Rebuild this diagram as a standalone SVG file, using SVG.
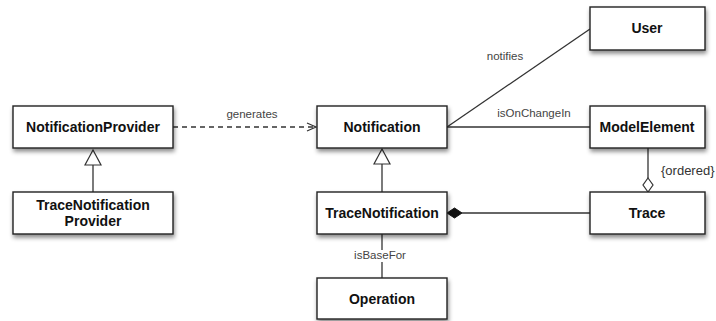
<svg xmlns="http://www.w3.org/2000/svg" width="716" height="321" viewBox="0 0 716 321">
<defs>
<filter id="sh" x="-10%" y="-10%" width="130%" height="150%">
<feDropShadow dx="1" dy="3" stdDeviation="2" flood-color="#000" flood-opacity="0.45"/>
</filter>
<marker id="open" markerWidth="12" markerHeight="10" refX="10" refY="5" orient="auto" markerUnits="userSpaceOnUse">
<path d="M1,1 L10,5 L1,9" fill="none" stroke="#333" stroke-width="1.2"/>
</marker>
</defs>
<style>
.box{fill:#fff;stroke:#222;stroke-width:1.4;filter:url(#sh)}
.t{font-family:"Liberation Sans",Arial,sans-serif;font-size:14px;font-weight:bold;fill:#111;text-anchor:middle}
.l{font-family:"Liberation Sans",Arial,sans-serif;font-size:11.5px;fill:#444}
.c{stroke:#333;stroke-width:1.3;fill:none}
</style>
<rect width="716" height="321" fill="#fff"/>
<g id="connectors">
<line class="c" x1="173" y1="127" x2="316" y2="127" stroke-dasharray="5,4" marker-end="url(#open)"/>
<text class="l" x="252" y="118" text-anchor="middle">generates</text>
<line class="c" x1="93" y1="165" x2="93" y2="192"/>
<path d="M93,150 L101,165 L85,165 Z" fill="#fff" stroke="#333" stroke-width="1.2"/>
<line class="c" x1="447" y1="127" x2="590" y2="29"/>
<text class="l" x="505" y="60" text-anchor="middle">notifies</text>
<line class="c" x1="447" y1="127" x2="590" y2="127"/>
<text class="l" x="534" y="117" text-anchor="middle">isOnChangeIn</text>
<line class="c" x1="382" y1="164" x2="382" y2="192"/>
<path d="M382,149 L390,164 L374,164 Z" fill="#fff" stroke="#333" stroke-width="1.2"/>
<line class="c" x1="648" y1="148" x2="648" y2="178"/>
<path d="M648,178 L653,185 L648,192 L643,185 Z" fill="#fff" stroke="#333" stroke-width="1.2"/>
<text class="l" x="661" y="175" style="font-size:13px;fill:#333">{ordered}</text>
<line class="c" x1="462" y1="213" x2="590" y2="213"/>
<path d="M447,213 L454.5,208 L462,213 L454.5,218 Z" fill="#111" stroke="#111" stroke-width="1"/>
<line class="c" x1="382" y1="234" x2="382" y2="250"/>
<line class="c" x1="382" y1="262" x2="382" y2="278"/>
<text class="l" x="380" y="259" text-anchor="middle">isBaseFor</text>
</g>
<g id="NotificationProvider">
<rect class="box" x="13" y="106" width="160" height="42"/>
<text class="t" x="93" y="132">NotificationProvider</text>
</g>
<g id="TraceNotificationProvider">
<rect class="box" x="13" y="192" width="160" height="42"/>
<text class="t" x="93" y="210">TraceNotification</text>
<text class="t" x="93" y="226">Provider</text>
</g>
<g id="Notification">
<rect class="box" x="317" y="106" width="130" height="42"/>
<text class="t" x="382" y="132">Notification</text>
</g>
<g id="TraceNotification">
<rect class="box" x="317" y="192" width="130" height="42"/>
<text class="t" x="382" y="218">TraceNotification</text>
</g>
<g id="Operation">
<rect class="box" x="317" y="278" width="130" height="41"/>
<text class="t" x="382" y="304">Operation</text>
</g>
<g id="User">
<rect class="box" x="590" y="7" width="115" height="43"/>
<text class="t" x="647" y="33">User</text>
</g>
<g id="ModelElement">
<rect class="box" x="590" y="106" width="115" height="42"/>
<text class="t" x="647" y="132">ModelElement</text>
</g>
<g id="Trace">
<rect class="box" x="590" y="192" width="115" height="42"/>
<text class="t" x="647" y="218">Trace</text>
</g>
</svg>
